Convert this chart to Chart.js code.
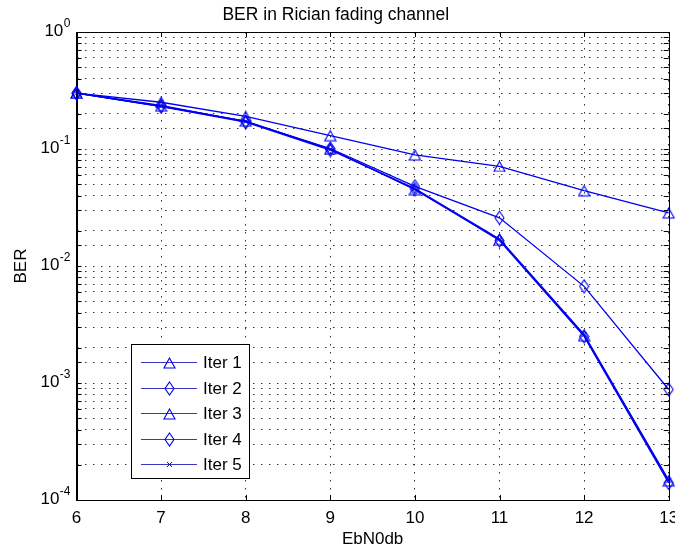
<!DOCTYPE html>
<html>
<head>
<meta charset="utf-8">
<script src="https://cdn.jsdelivr.net/npm/chart.js@4.4.1/dist/chart.umd.min.js"></script>
<style>
  html, body { margin: 0; padding: 0; background: #fff; }
  #wrap { width: 675px; height: 551px; }
</style>
</head>
<body>
<div id="wrap"><canvas id="berChart" width="675" height="551"></canvas></div>
<script>
const ebn0 = [6, 7, 8, 9, 10, 11, 12, 13];
const iter1 = [0.30, 0.251, 0.19, 0.13, 0.089, 0.071, 0.044, 0.0284];
const iter2 = [0.30, 0.236, 0.171, 0.101, 0.048, 0.0258, 0.0067, 0.00088];
const iter3 = [0.30, 0.232, 0.173, 0.100, 0.045, 0.0168, 0.00254, 0.000145];
const iter4 = [0.30, 0.230, 0.170, 0.098, 0.0455, 0.0165, 0.0025, 0.00014];
const iter5 = [0.30, 0.233, 0.172, 0.099, 0.046, 0.0170, 0.0026, 0.000148];
const seriesNames = ["Iter 1", "Iter 2", "Iter 3", "Iter 4", "Iter 5"];
// y tick labels: base and exponent, drawn MATLAB style
const yTickBase = "10";
const yTickExp = { "0": "0", "-1": "-1", "-2": "-2", "-3": "-3", "-4": "-4" };

const blue = "#0000f0";
const font = "'Liberation Sans', Arial, sans-serif";
Chart.defaults.font.family = font;
Chart.defaults.color = "#000";

// MATLAB-like hollow markers
function makeMarker(kind) {
  const c = document.createElement("canvas");
  const g = c.getContext("2d");
  if (kind === "tri") {
    c.width = 13; c.height = 12;
    g.strokeStyle = blue; g.lineWidth = 1.1;
    g.beginPath(); g.moveTo(6.5, 1); g.lineTo(12, 11); g.lineTo(1, 11); g.closePath(); g.stroke();
  } else if (kind === "dia") {
    c.width = 11; c.height = 15;
    g.strokeStyle = blue; g.lineWidth = 1.1;
    g.beginPath(); g.moveTo(5.5, 1); g.lineTo(10, 7.5); g.lineTo(5.5, 14); g.lineTo(1, 7.5); g.closePath(); g.stroke();
  } else {
    c.width = 7; c.height = 7;
    g.strokeStyle = blue; g.lineWidth = 1;
    g.beginPath(); g.moveTo(1, 1); g.lineTo(6, 6); g.moveTo(6, 1); g.lineTo(1, 6); g.stroke();
  }
  return c;
}
const triMark = makeMarker("tri");
const diaMark = makeMarker("dia");
const xMark = makeMarker("x");

function series(label, vals, mark) {
  return {
    label: label,
    data: ebn0.map((x, i) => ({ x: x, y: vals[i] })),
    borderColor: blue,
    backgroundColor: blue,
    borderWidth: 1.3,
    pointStyle: mark,
    pointRadius: 5,
    tension: 0,
    clip: false
  };
}

// box + inward ticks + power-of-ten labels like MATLAB axes
const axesBox = {
  id: "axesBox",
  afterDatasetsDraw(chart) {
    const { ctx, chartArea: a, scales } = chart;
    ctx.save();
    ctx.strokeStyle = "#000";
    ctx.lineWidth = 1;
    ctx.setLineDash([]);
    ctx.beginPath();
    scales.y.ticks.forEach(t => {
      const p = Math.round(scales.y.getPixelForValue(t.value)) + 0.5;
      ctx.moveTo(a.left, p); ctx.lineTo(a.left + 5, p);
      ctx.moveTo(a.right, p); ctx.lineTo(a.right - 5, p);
    });
    scales.x.ticks.forEach(t => {
      const p = Math.round(scales.x.getPixelForValue(t.value)) + 0.5;
      ctx.moveTo(p, a.top); ctx.lineTo(p, a.top + 5);
      ctx.moveTo(p, a.bottom); ctx.lineTo(p, a.bottom - 5);
    });
    ctx.stroke();
    ctx.strokeRect(Math.round(a.left) + 0.5, Math.round(a.top) + 0.5,
      Math.round(a.right - a.left), Math.round(a.bottom - a.top));

    // y labels: "10" with raised exponent
    ctx.fillStyle = "#000";
    ctx.textBaseline = "middle";
    scales.y.ticks.forEach(t => {
      const e = Math.round(Math.log10(t.value));
      if (Math.abs(Math.log10(t.value) - e) > 1e-9) return;
      const p = scales.y.getPixelForValue(t.value);
      const exp = yTickExp[String(e)];
      ctx.font = "12px " + font;
      ctx.textAlign = "right";
      const right = a.left - 6;
      ctx.fillText(exp, right, p - 8);
      const ew = ctx.measureText(exp).width;
      ctx.font = "17px " + font;
      ctx.fillText(yTickBase, right - ew - 0.5, p - 1);
    });
    ctx.restore();
  }
};

// legend box inside the plot, lower left
const boxLegend = {
  id: "boxLegend",
  afterDraw(chart) {
    const { ctx } = chart;
    const x0 = 131, y0 = 344, w = 118, h = 134;
    ctx.save();
    ctx.setLineDash([]);
    ctx.fillStyle = "#fff";
    ctx.fillRect(x0, y0, w, h);
    ctx.strokeStyle = "#000";
    ctx.lineWidth = 1;
    ctx.strokeRect(x0 + 0.5, y0 + 0.5, w, h);
    ctx.font = "17px " + font;
    ctx.textBaseline = "middle";
    ctx.fillStyle = "#000";
    chart.data.datasets.forEach((ds, i) => {
      const y = Math.round(y0 + 18 + i * 25.5) + 0.5;
      ctx.strokeStyle = "#3838c0";
      ctx.lineWidth = 1;
      ctx.beginPath(); ctx.moveTo(141, y); ctx.lineTo(197, y); ctx.stroke();
      const m = ds.pointStyle;
      ctx.drawImage(m, Math.round(169 - m.width / 2), Math.round(y - m.height / 2));
      ctx.fillText(ds.label, 203, y + 1);
    });
    ctx.restore();
  }
};

const gridDots = { display: true, color: "#000", dash: [1.5, 6.5] };

new Chart(document.getElementById("berChart"), {
  type: "line",
  data: {
    datasets: [
      series(seriesNames[0], iter1, triMark),
      series(seriesNames[1], iter2, diaMark),
      series(seriesNames[2], iter3, triMark),
      series(seriesNames[3], iter4, diaMark),
      series(seriesNames[4], iter5, xMark)
    ]
  },
  options: {
    responsive: false,
    animation: false,
    layout: { padding: { left: 0, right: 3.5, top: 0, bottom: 0 } },
    plugins: {
      legend: { display: false },
      tooltip: { enabled: false },
      title: {
        display: true,
        text: "BER in Rician fading channel",
        color: "#000",
        font: { size: 17.5, weight: "normal" },
        padding: { top: 5, bottom: 6 }
      }
    },
    scales: {
      x: {
        type: "linear",
        min: 6,
        max: 13,
        ticks: { stepSize: 1, padding: 8, font: { size: 17 }, color: "#000", maxRotation: 0 },
        grid: { color: "#333", drawTicks: false, lineWidth: 1 },
        border: gridDots,
        title: { display: true, text: "EbN0db", font: { size: 17 }, color: "#000", padding: { top: 0, bottom: 1 } },
        afterFit(s) { s.height = 51; s.paddingLeft = 0; s.paddingRight = 0; }
      },
      y: {
        type: "logarithmic",
        min: 0.0001,
        max: 1,
        ticks: {
          autoSkip: false,
          padding: 6,
          font: { size: 17 },
          color: "#000",
          callback() { return ""; }
        },
        grid: { color: "#333", drawTicks: false, lineWidth: 1 },
        border: gridDots,
        title: { display: true, text: "BER", font: { size: 17 }, color: "#000", padding: { top: 11.5, bottom: 0 } },
        afterFit(s) { s.width = 76.5; s.paddingTop = 0; s.paddingBottom = 0; }
      }
    }
  },
  plugins: [axesBox, boxLegend]
});
</script>
</body>
</html>
